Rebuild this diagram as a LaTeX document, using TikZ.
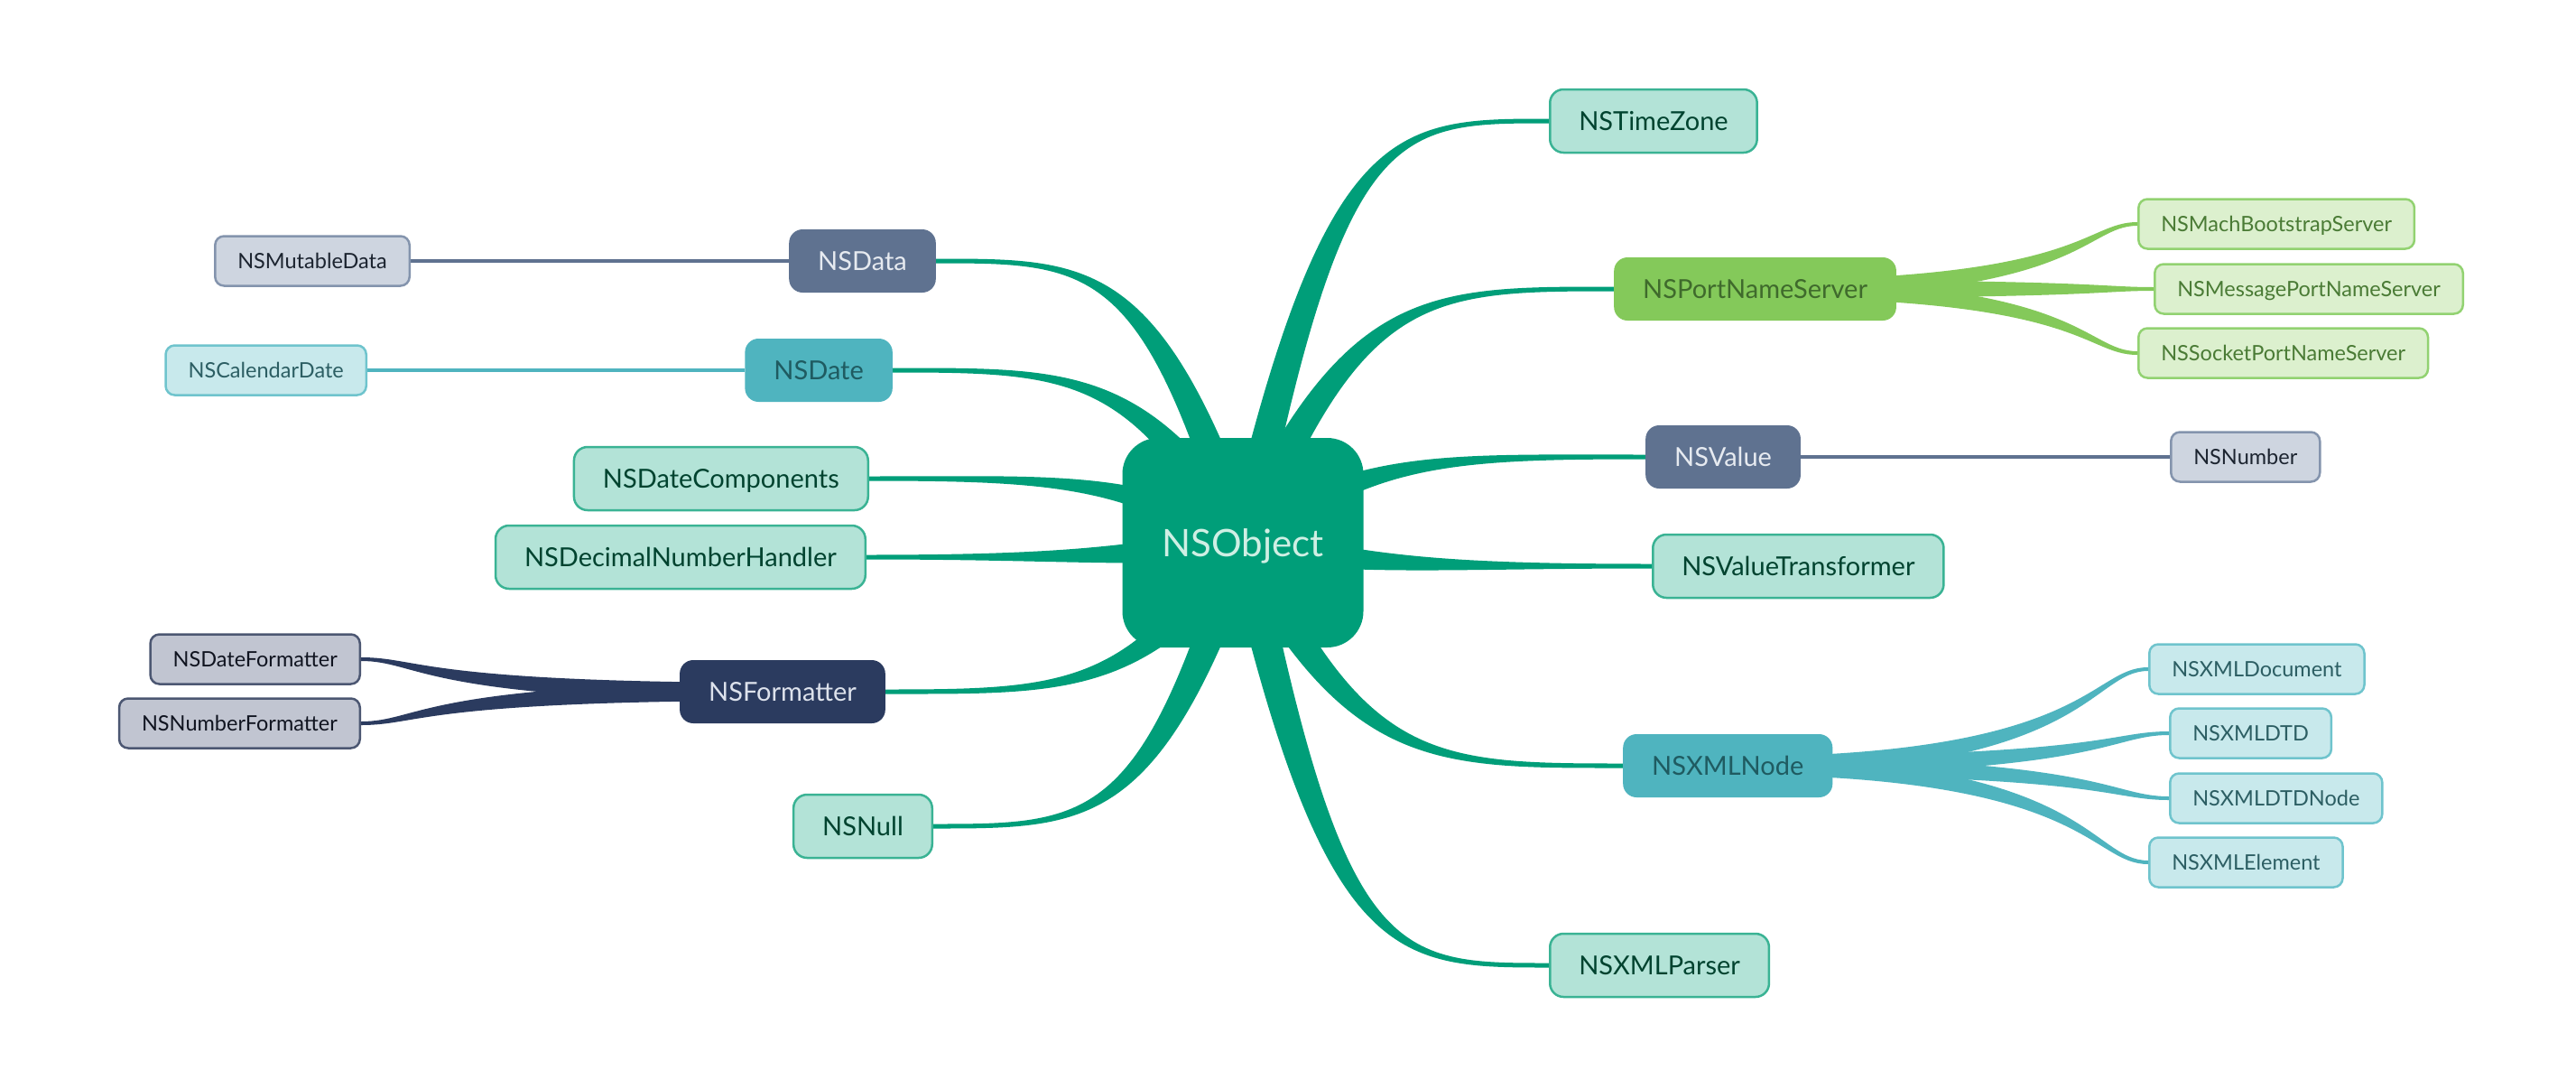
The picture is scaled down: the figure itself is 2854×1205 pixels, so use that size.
\documentclass[tikz,border=0pt]{standalone}
\usepackage{fontspec}
\setmainfont{Lato}
\usepackage{tikz}
\usetikzlibrary{calc}

\definecolor{objgreen}{HTML}{009E79}
\definecolor{objtext}{HTML}{CFEFE4}
\definecolor{leaffill}{HTML}{B3E3D7}
\definecolor{leafline}{HTML}{3AB394}
\definecolor{leaftext}{HTML}{00432F}
\definecolor{dataslate}{HTML}{5F7290}
\definecolor{slatetext}{HTML}{E6EAF0}
\definecolor{slatelight}{HTML}{CED5E0}
\definecolor{slateline}{HTML}{8494AD}
\definecolor{slatedark}{HTML}{1C2430}
\definecolor{dateteal}{HTML}{4FB4BF}
\definecolor{tealtext}{HTML}{1F5B61}
\definecolor{teallight}{HTML}{C8E9EC}
\definecolor{tealline}{HTML}{6FC4CD}
\definecolor{tealdark}{HTML}{2C5E63}
\definecolor{fmtnavy}{HTML}{2B3B5F}
\definecolor{navytext}{HTML}{DDE2EC}
\definecolor{navylight}{HTML}{C1C5D1}
\definecolor{navyline}{HTML}{4C5772}
\definecolor{navydark}{HTML}{101420}
\definecolor{portlime}{HTML}{84C95A}
\definecolor{limetext}{HTML}{3F6A2C}
\definecolor{limelight}{HTML}{DCF0CE}
\definecolor{limeline}{HTML}{92D271}
\definecolor{limedark}{HTML}{4A7B35}

\pgfdeclarelayer{back}
\pgfdeclarelayer{links}
\pgfsetlayers{back,links,main}

% tapered branch out of the root: from, to, half width at start, half width at end, colour
\newcommand{\mainbranch}[5]{%
  \fill[#5] let \p0=(#1), \p3=(#2),
    \n1={0.3*(\x3-\x0)}, \n2={\y3-\y0}, \n3={veclen(\n1,\n2)},
    \n4={-\n2/\n3*#3}, \n5={\n1/\n3*#3}, \n6={0.5*(\x3-\x0)},
    \n7={(\x3-\x0)/abs(\x3-\x0)*#4}, \n8={0.6*\n4}, \n9={0.6*\n5} in
    (\x0+\n4,\y0+\n5) .. controls (\x0+\n1+\n8,\y3+\n9) and (\x0+\n6,\y3+\n7) .. (\x3,\y3+\n7)
    -- (\x3,\y3-\n7) .. controls (\x0+\n6,\y3-\n7) and (\x0+\n1-\n8,\y3-\n9) .. (\x0-\n4,\y0-\n5) -- cycle;}
% tapered s-shaped branch between second and third level
\newcommand{\subbranch}[5]{%
  \fill[#5] let \p0=(#1), \p3=(#2),
    \n1={0.86*(\x3-\x0)}, \n2={(\x3-\x0)/abs(\x3-\x0)},
    \n3={\n2*#3}, \n4={\n2*#4} in
    (\x0,\y0+\n3) .. controls (\x0+\n1,\y0+\n3) and (\x0+\n1,\y3+\n4) .. (\x3,\y3+\n4)
    -- (\x3,\y3-\n4) .. controls (\x0+\n1,\y3-\n4) and (\x0+\n1,\y0-\n3) .. (\x0,\y0-\n3) -- cycle;}

\begin{document}
\begin{tikzpicture}[x=1pt,y=-1pt,
    obj/.style={rounded corners=40pt, fill=objgreen, text=objtext, minimum width=267pt, minimum height=232pt,
      inner sep=0pt, text height=30pt, text depth=0pt, font=\fontsize{42}{50}\selectfont},
    lvl/.style={rounded corners=15pt, minimum height=70pt, inner xsep=32pt, inner ysep=0pt,
      text height=21pt, text depth=0pt, font=\fontsize{29}{35}\selectfont},
    leaf/.style={lvl, fill=leaffill, draw=leafline, line width=2.5pt, text=leaftext},
    sub/.style={rounded corners=10pt, minimum height=55pt, inner xsep=25pt, inner ysep=0pt,
      text height=17pt, text depth=0pt, line width=2.5pt, font=\fontsize{23.5}{28}\selectfont},
    subslate/.style={sub, fill=slatelight, draw=slateline, text=slatedark},
    subteal/.style={sub, fill=teallight, draw=tealline, text=tealdark},
    subnavy/.style={sub, fill=navylight, draw=navyline, text=navydark},
    sublime/.style={sub, fill=limelight, draw=limeline, text=limedark}]
  \begin{pgfonlayer}{back}
    \fill[white] (0,0) rectangle (2854,1205);
  \end{pgfonlayer}
  \useasboundingbox (0,0) rectangle (2854,1205);

  \node[obj] (obj) at (1377,601) {NSObject};

  % left side
  \node[lvl, fill=dataslate, text=slatetext, anchor=east] (data) at (1037,289) {NSData};
  \node[lvl, fill=dateteal, text=tealtext, anchor=east] (date) at (989,410) {NSDate};
  \node[leaf, anchor=east] (dcomp) at (963,530) {NSDateComponents};
  \node[leaf, anchor=east] (dnh) at (960,617) {NSDecimalNumberHandler};
  \node[lvl, fill=fmtnavy, text=navytext, anchor=east] (fmt) at (981,766) {NSFormatter};
  \node[leaf, anchor=east] (null) at (1034,915) {NSNull};
  \node[subslate, anchor=east] (mdata) at (455,289) {NSMutableData};
  \node[subteal, anchor=east] (cal) at (407,410) {NSCalendarDate};
  \node[subnavy, anchor=east] (dfmt) at (400,730) {NSDateFormatter};
  \node[subnavy, anchor=east] (nfmt) at (400,801) {NSNumberFormatter};

  % right side
  \node[leaf, anchor=west] (tz) at (1716,134) {NSTimeZone};
  \node[lvl, fill=portlime, text=limetext, anchor=west] (pns) at (1788,320) {NSPortNameServer};
  \node[lvl, fill=dataslate, text=slatetext, anchor=west] (val) at (1823,506) {NSValue};
  \node[leaf, anchor=west] (vt) at (1830,627) {NSValueTransformer};
  \node[lvl, fill=dateteal, text=tealtext, anchor=west] (xml) at (1798,848) {NSXMLNode};
  \node[leaf, anchor=west] (parser) at (1716,1069) {NSXMLParser};
  \node[sublime, anchor=west] (mach) at (2368,248) {NSMachBootstrapServer};
  \node[sublime, anchor=west] (msg) at (2386,320) {NSMessagePortNameServer};
  \node[sublime, anchor=west] (sock) at (2368,391) {NSSocketPortNameServer};
  \node[subslate, anchor=west] (num) at (2404,506) {NSNumber};
  \node[subteal, anchor=west] (xdoc) at (2380,741) {NSXMLDocument};
  \node[subteal, anchor=west] (xdtd) at (2403,812) {NSXMLDTD};
  \node[subteal, anchor=west] (xdtdn) at (2403,884) {NSXMLDTDNode};
  \node[subteal, anchor=west] (xel) at (2380,955) {NSXMLElement};

  \begin{pgfonlayer}{links}
    \foreach \kid in {data.east,date.east,dcomp.east,dnh.east,fmt.east,null.east,
                      tz.west,pns.west,val.west,vt.west,xml.west,parser.west}
      \mainbranch{obj.center}{\kid}{19pt}{2.5pt}{objgreen};
    \foreach \kid in {dfmt,nfmt}
      \subbranch{fmt.center}{\kid.east}{10pt}{2pt}{fmtnavy};
    \foreach \kid in {mach,msg,sock}
      \subbranch{pns.center}{\kid.west}{10pt}{2pt}{portlime};
    \foreach \kid in {xdoc,xdtd,xdtdn,xel}
      \subbranch{xml.center}{\kid.west}{10pt}{2pt}{dateteal};
    \draw[dataslate, line width=4pt] (data.west) -- (mdata.east);
    \draw[dateteal, line width=4pt] (date.west) -- (cal.east);
    \draw[dataslate, line width=4pt] (val.east) -- (num.west);
  \end{pgfonlayer}
\end{tikzpicture}
\end{document}
